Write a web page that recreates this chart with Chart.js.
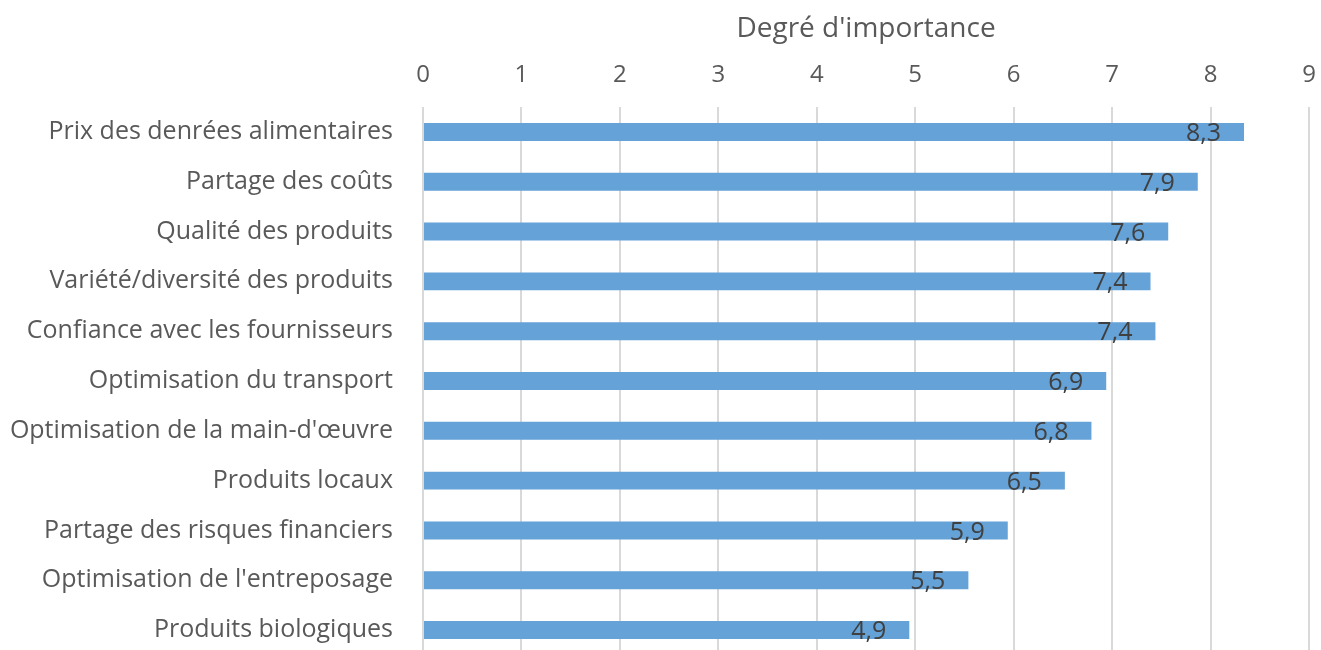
<!DOCTYPE html>
<html lang="fr">
<head>
<meta charset="utf-8">
<title>Degré d'importance</title>
<script src="https://cdn.jsdelivr.net/npm/chart.js@4.4.1/dist/chart.umd.min.js"></script>
<style>
    html, body { margin: 0; padding: 0; background: #fff; overflow: hidden; }
    #wrap { position: relative; width: 1321px; height: 660px; }
</style>
</head>
<body>
<div id="wrap"><canvas id="importanceChart"></canvas></div>
<script>
// criteria, top to bottom
var criteres = [
    'Prix des denrées alimentaires',
    'Partage des coûts',
    'Qualité des produits',
    'Variété/diversité des produits',
    'Confiance avec les fournisseurs',
    'Optimisation du transport',
    "Optimisation de la main-d'œuvre",
    'Produits locaux',
    'Partage des risques financiers',
    "Optimisation de l'entreposage",
    'Produits biologiques'
];
// average score per criterion
var scores = [8.34, 7.87, 7.57, 7.39, 7.44, 6.94, 6.79, 6.52, 5.94, 5.54, 4.94];
var xTicks = [0, 1, 2, 3, 4, 5, 6, 7, 8, 9];

const FONT = "'Open Sans', 'DejaVu Sans', sans-serif";
const GREY = '#595959';

// value written inside the end of each bar, with a decimal comma
const barValues = {
    id: 'barValues',
    afterDatasetsDraw(chart) {
        const ctx = chart.ctx;
        const meta = chart.getDatasetMeta(0);
        ctx.save();
        ctx.font = '25px ' + FONT;
        ctx.fillStyle = '#404040';
        ctx.textAlign = 'right';
        ctx.textBaseline = 'middle';
        meta.data.forEach(function (bar, i) {
            const txt = scores[i].toFixed(1).replace('.', ',');
            ctx.fillText(txt, bar.x - 23, bar.y + 2);
        });
        ctx.restore();
    }
};

new Chart(document.getElementById('importanceChart').getContext('2d'), {
    type: 'bar',
    data: {
        labels: criteres,
        datasets: [{
            data: scores,
            backgroundColor: '#64a2d8',
            borderWidth: 0,
            categoryPercentage: 1,
            barPercentage: 0.36
        }]
    },
    options: {
        indexAxis: 'y',
        responsive: true,
        maintainAspectRatio: false,
        animation: false,
        layout: { padding: { left: 0, right: 12, top: 0, bottom: 5 } },
        plugins: {
            legend: { display: false },
            tooltip: { enabled: false }
        },
        scales: {
            x: {
                position: 'top',
                min: 0,
                max: 9,
                afterBuildTicks: function (scale) {
                    scale.ticks = xTicks.map(v => ({ value: v }));
                },
                afterFit: function (scale) {
                    scale.height = 107;
                    scale.paddingLeft = 0;
                    scale.paddingRight = 0;
                },
                grid: { color: '#d9d9d9', lineWidth: 2, drawTicks: false },
                border: { display: false },
                ticks: {
                    color: GREY,
                    font: { family: FONT, size: 24 },
                    padding: 17
                },
                title: {
                    display: true,
                    text: "Degré d'importance",
                    color: GREY,
                    font: { family: FONT, size: 28 },
                    padding: { top: 12, bottom: 0 }
                }
            },
            y: {
                afterFit: function (scale) {
                    scale.width = 423;
                    scale.paddingTop = 0;
                    scale.paddingBottom = 0;
                },
                grid: { display: false, drawTicks: false },
                border: { display: false },
                ticks: {
                    color: GREY,
                    font: { family: FONT, size: 25 },
                    padding: 30
                }
            }
        }
    },
    plugins: [barValues]
});
</script>
</body>
</html>
